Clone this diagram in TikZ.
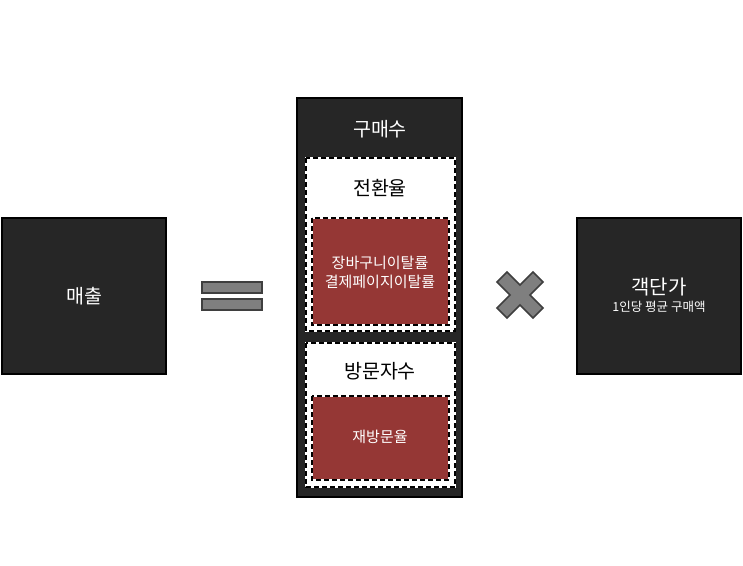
\documentclass[tikz,border=0pt]{standalone}
\usepackage{fontspec}
\setmainfont{Noto Sans CJK KR}
\definecolor{darkbox}{HTML}{262626}
\definecolor{redbox}{HTML}{953735}
\definecolor{opgray}{HTML}{7F7F7F}
\definecolor{opborder}{HTML}{3F3F3F}
\tikzset{
  darkrect/.style={draw=black, line width=1.5pt, fill=darkbox, text=white},
  whiteinner/.style={fill=white, draw=white, line width=1.6pt},
  redinner/.style={fill=redbox, draw=white, line width=1.6pt},
  dashover/.style={draw=black, line width=1.6pt, dash pattern=on 5pt off 3pt},
  opshape/.style={fill=opgray, draw=opborder, line width=1.6pt},
  ttl/.style={text=white, font=\fontsize{19.5}{22}\selectfont},
  blk/.style={text=black, font=\fontsize{19.5}{22}\selectfont},
  sml/.style={text=white, font=\fontsize{15}{19}\selectfont, align=center},
}
\begin{document}
\begin{tikzpicture}[x=1pt,y=-1pt]
\useasboundingbox (0,0) rectangle (743,565);
% sales
\draw[darkrect] (2,218) rectangle (166,374);
\node[ttl] (sales) at (84,296) {매출};
% equals
\draw[opshape] (202,282) rectangle (262,293);
\draw[opshape] (202,299) rectangle (262,310);
\coordinate (eq) at (232,296);
% purchases
\draw[darkrect] (297,98) rectangle (462,497);
\node[ttl] (purch) at (380,129) {구매수};
% conversion
\draw[whiteinner] (306,158) rectangle (455,331);
\draw[dashover] (306,158) rectangle (455,331);
\node[blk] (conv) at (380,188) {전환율};
\draw[redinner] (312,218) rectangle (449,325);
\draw[dashover] (312,218) rectangle (449,325);
\node[sml] (cart) at (380,272) {장바구니이탈률\\결제페이지이탈률};
% visitors
\draw[whiteinner] (306,343) rectangle (455,487);
\draw[dashover] (306,343) rectangle (455,487);
\node[blk] (visit) at (380,371) {방문자수};
\draw[redinner] (312,396) rectangle (449,480);
\draw[dashover] (312,396) rectangle (449,480);
\node[sml] (revisit) at (380,437) {재방문율};
% times
\begin{scope}[shift={(520,295)}]
\draw[opshape] (-13,-23) -- (0,-10) -- (13,-23) -- (23,-13) -- (10,0) -- (23,13) -- (13,23) -- (0,10) -- (-13,23) -- (-23,13) -- (-10,0) -- (-23,-13) -- cycle;
\end{scope}
% avg order value
\draw[darkrect] (577,218) rectangle (741,374);
\node[text=white, font=\fontsize{20}{22}\selectfont] (aov) at (659,287) {객단가};
\node[text=white, font=\fontsize{12.5}{14}\selectfont] (aovsub) at (659,307) {1인당 평균 구매액};
\end{tikzpicture}
\end{document}
